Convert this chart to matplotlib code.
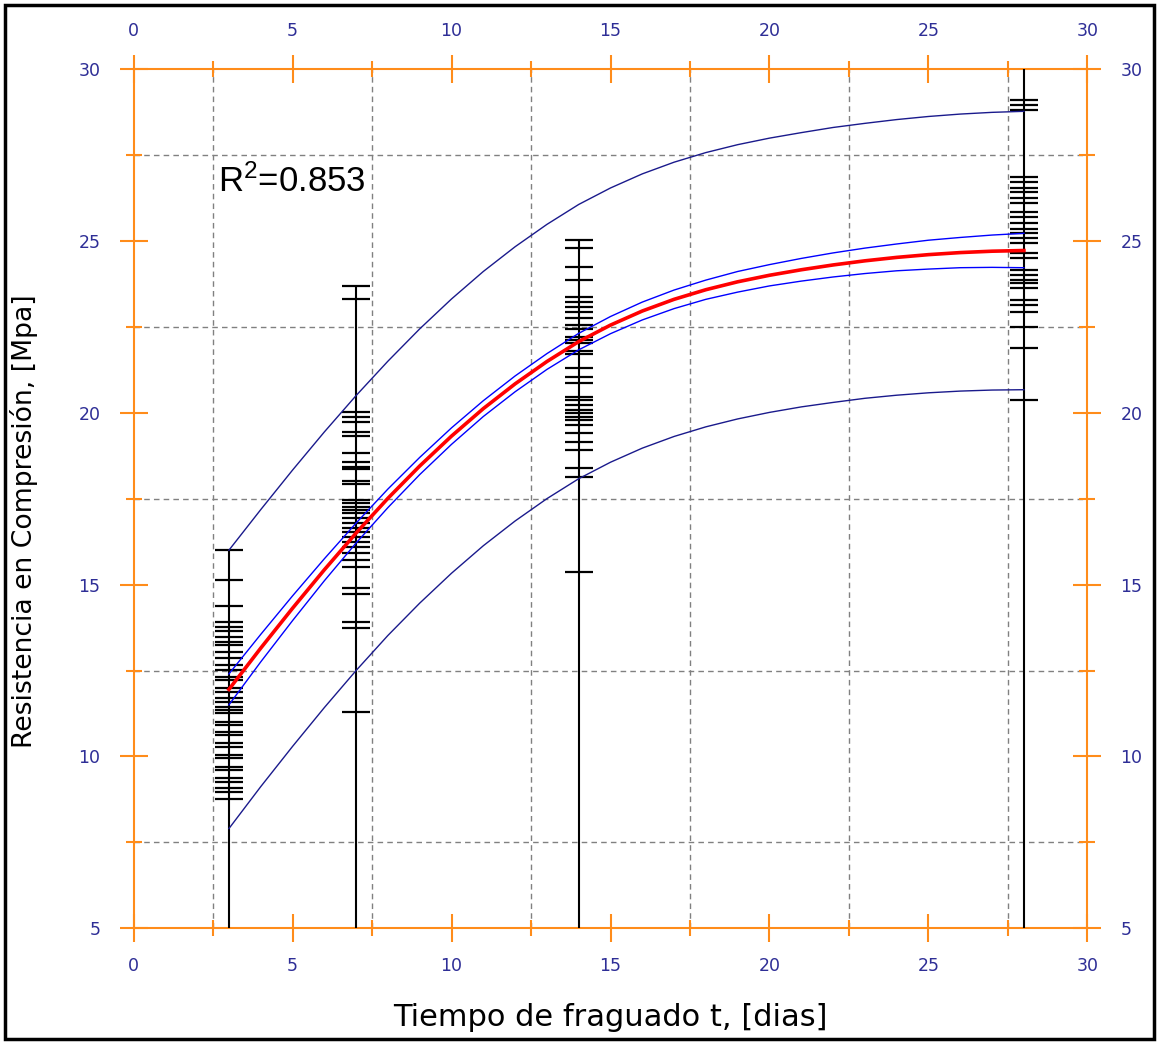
"""Resistencia a compresión vs tiempo de fraguado."""

import matplotlib
matplotlib.use("Agg")
import matplotlib.pyplot as plt
from matplotlib.patches import Rectangle
from matplotlib.ticker import MultipleLocator

plt.rcParams["font.family"] = ["DejaVu Sans"]
plt.rcParams["mathtext.fontset"] = "custom"
plt.rcParams["mathtext.rm"] = "Liberation Sans"
plt.rcParams["mathtext.it"] = "Liberation Sans"

# ---------------------------------------------------------------------------
# Data
# ---------------------------------------------------------------------------
ages = [3, 7, 14, 28]
whisker_top = [16.0, 23.7, 25.0, 30.0]

obs_3 = [16.0, 15.13, 14.38, 13.92, 13.76, 13.66, 13.48, 13.34, 13.24, 13.05,
         12.85, 12.66, 12.51, 12.32, 12.22, 11.98, 11.88, 11.69, 11.59, 11.45,
         11.35, 11.25, 11.01, 10.91, 10.72, 10.62, 10.38, 10.28, 10.04, 9.94,
         9.70, 9.60, 9.36, 9.26, 9.07, 8.97, 8.75]
obs_7 = [23.7, 23.3, 20.03, 19.88, 19.74, 19.43, 19.33, 18.84, 18.58, 18.43,
         18.35, 18.02, 17.94, 17.46, 17.36, 17.27, 17.17, 17.07, 16.93, 16.78,
         16.64, 16.54, 16.39, 16.25, 16.10, 15.91, 15.71, 15.52, 14.89, 14.74,
         13.92, 13.73, 11.30]
obs_14 = [25.02, 24.78, 24.25, 23.86, 23.38, 23.23, 23.08, 22.94, 22.75, 22.55,
          22.44, 22.21, 22.12, 22.02, 21.80, 21.71, 21.29, 21.05, 20.86, 20.47,
          20.37, 20.22, 20.08, 19.98, 19.88, 19.79, 19.64, 19.40, 19.16, 18.91,
          18.38, 18.14, 15.37]
obs_28 = [29.10, 28.95, 28.81, 26.87, 26.72, 26.53, 26.43, 26.24, 26.09, 25.85,
          25.70, 25.51, 25.36, 25.22, 25.07, 24.93, 24.64, 24.49, 24.15, 24.01,
          23.86, 23.77, 23.62, 23.28, 23.13, 22.94, 22.50, 21.87, 20.37]
observations = [obs_3, obs_7, obs_14, obs_28]

# fitted curve, confidence band (blue) and prediction band (navy), day by day
t_fit = [3, 4, 5, 6, 7, 8, 9, 10, 11, 12, 13, 14, 15, 16, 17, 18, 19, 20,
         21, 22, 23, 24, 25, 26, 27, 28]
fit = [11.95, 13.15, 14.31, 15.43, 16.50, 17.51, 18.45, 19.32, 20.12, 20.84,
       21.49, 22.07, 22.55, 22.96, 23.30, 23.58, 23.81, 24.00, 24.16, 24.30,
       24.42, 24.52, 24.60, 24.66, 24.70, 24.72]
conf_hi = [12.40, 13.55, 14.67, 15.75, 16.79, 17.78, 18.70, 19.56, 20.35, 21.07,
           21.72, 22.31, 22.80, 23.22, 23.57, 23.86, 24.11, 24.31, 24.49, 24.65,
           24.79, 24.91, 25.02, 25.10, 25.17, 25.22]
conf_lo = [11.50, 12.75, 13.95, 15.11, 16.21, 17.24, 18.20, 19.08, 19.89, 20.61,
           21.26, 21.83, 22.30, 22.70, 23.03, 23.30, 23.51, 23.69, 23.83, 23.95,
           24.05, 24.13, 24.18, 24.22, 24.23, 24.22]
pred_hi = [16.00, 17.18, 18.33, 19.44, 20.50, 21.50, 22.44, 23.31, 24.11, 24.83,
           25.48, 26.06, 26.54, 26.95, 27.29, 27.57, 27.80, 27.99, 28.15, 28.30,
           28.42, 28.53, 28.62, 28.69, 28.74, 28.77]
pred_lo = [7.90, 9.12, 10.29, 11.42, 12.50, 13.52, 14.46, 15.33, 16.13, 16.85,
           17.50, 18.08, 18.56, 18.97, 19.31, 19.59, 19.82, 20.01, 20.17, 20.30,
           20.42, 20.51, 20.58, 20.63, 20.66, 20.67]

r2_label = r"R$^{2}$=0.853"

ORANGE = "#FF8C1A"
TICK_TXT = "#2E2E96"

# ---------------------------------------------------------------------------
# Plot
# ---------------------------------------------------------------------------
fig = plt.figure(figsize=(11.59, 10.43), dpi=100)
ax = fig.add_axes([0.1152, 0.110, 0.8231, 0.8238])

ax.set_xlim(0, 30)
ax.set_ylim(5, 30)

# grid on the half-way positions
for axis in (ax.xaxis, ax.yaxis):
    axis.set_major_locator(MultipleLocator(5))
    axis.set_minor_locator(MultipleLocator(2.5))
ax.grid(True, which="minor", color="#808080", linestyle=(0, (4, 3)), linewidth=1.0)
ax.grid(False, which="major")

# observations
for age, top, obs in zip(ages, whisker_top, observations):
    ax.vlines(age, 5, top, color="black", linewidth=1.5, zorder=3)
    ax.plot([age] * len(obs), obs, linestyle="none", marker="_",
            markersize=19.5, markeredgewidth=1.6, color="black", zorder=3)

# fitted curve and bands
ax.plot(t_fit, pred_hi, color="#1a1a8c", linewidth=1.0, zorder=4)
ax.plot(t_fit, pred_lo, color="#1a1a8c", linewidth=1.0, zorder=4)
ax.plot(t_fit, conf_hi, color="#0000ff", linewidth=1.0, zorder=4)
ax.plot(t_fit, conf_lo, color="#0000ff", linewidth=1.0, zorder=4)
ax.plot(t_fit, fit, color="#ff0000", linewidth=2.6, zorder=5)

ax.text(2.66, 26.42, r2_label, fontsize=25, color="black",
        family="Liberation Sans", zorder=6)

# orange frame with ticks on all four sides
for spine in ax.spines.values():
    spine.set_color(ORANGE)
    spine.set_linewidth(1.5)
ax.tick_params(which="both", direction="inout", color=ORANGE, width=1.5,
               top=True, right=True, labeltop=True, labelright=True,
               labelcolor=TICK_TXT, labelsize=12.5)
ax.tick_params(which="major", length=19.5)
ax.tick_params(which="minor", length=11)
ax.tick_params(axis="y", which="major", pad=14)
ax.tick_params(axis="x", which="major", pad=11)

ax.set_xlabel("Tiempo de fraguado t, [dias]", fontsize=22, labelpad=20)
ax.set_ylabel("Resistencia en Compresión, [Mpa]", fontsize=19.2)
ax.yaxis.set_label_coords(-0.100, 0.474)

# outer black frame
fig.patches.append(Rectangle((0.004, 0.004), 0.992, 0.991, transform=fig.transFigure,
                             fill=False, edgecolor="black", linewidth=2.5))

fig.savefig("out.png", dpi=100)
